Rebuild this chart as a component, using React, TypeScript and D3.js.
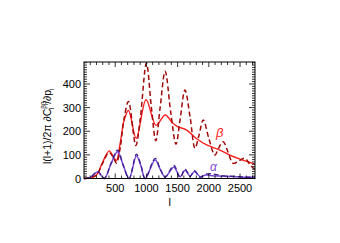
import React, { useEffect, useRef } from "react";
import * as d3 from "d3";

// control points: [l, value]
const betaSolid: [number, number][] = [
  [0, 0], [100, 3], [200, 15], [300, 70], [405, 117], [470, 92], [520, 76], [580, 150],
  [645, 248], [713, 288], [837, 170], [995, 333], [1155, 225], [1300, 269], [1420, 235],
  [1500, 220], [1645, 205], [1805, 168], [1965, 142], [2177, 120], [2337, 99], [2500, 82], [2750, 60],
];
const betaDashed: [number, number][] = [
  [0, 0], [100, 3], [200, 14], [300, 65], [400, 110], [470, 90], [520, 65], [580, 130],
  [640, 250], [713, 326], [830, 140], [900, 250], [1000, 488], [1080, 300], [1150, 160],
  [1220, 300], [1300, 454], [1390, 280], [1474, 145], [1540, 250], [1618, 375], [1700, 260],
  [1778, 128], [1840, 180], [1911, 248], [2000, 170], [2097, 99], [2160, 130], [2230, 156],
  [2310, 110], [2390, 64], [2480, 75], [2577, 85], [2670, 55], [2750, 35],
];
const alphaSolid: [number, number][] = [
  [0, 0], [100, 5], [217, 28], [325, 0], [430, 60], [537, 113], [630, 55], [723, 0],
  [840, 95], [910, 55], [980, 0], [1140, 78], [1220, 40], [1300, 7], [1440, 48], [1540, 7],
  [1620, 35], [1700, 10], [1770, 30], [1860, 8], [1950, 15], [2050, 12], [2200, 10],
  [2400, 8], [2600, 5], [2750, 5],
];
const alphaDashed: [number, number][] = [
  [0, 0], [100, 4], [217, 30], [325, 0], [430, 62], [537, 120], [630, 55], [723, 0],
  [840, 103], [910, 58], [980, 0], [1140, 85], [1220, 42], [1300, 5], [1440, 55], [1540, 5],
  [1620, 40], [1700, 8], [1770, 33], [1860, 5], [1950, 18], [2050, 20], [2200, 12],
  [2400, 9], [2600, 6], [2750, 5],
];
const xTicks = [500, 1000, 1500, 2000, 2500];
const yTicks = [0, 100, 200, 300, 400];

const W = 340, H = 243;
const M = { left: 84, right: 255, top: 62, bottom: 178.5 };

export default function App() {
  const svgRef = useRef<SVGSVGElement>(null);

  useEffect(() => {
    const svg = d3.select(svgRef.current);
    svg.selectAll("*").remove();

    const x = d3.scaleLinear().domain([0, 2740]).range([M.left, M.right]);
    const y = d3.scaleLinear().domain([0, 493]).range([M.bottom, M.top]);
    const font = "'Liberation Sans', Arial, sans-serif";

    svg.append("defs").append("clipPath").attr("id", "plot")
      .append("rect").attr("x", M.left).attr("y", M.top - 2)
      .attr("width", M.right - M.left).attr("height", M.bottom - M.top + 4);

    const line = d3.line<[number, number]>()
      .x((d) => x(d[0])).y((d) => y(d[1]))
      .curve(d3.curveCatmullRom.alpha(0.5));

    const g = svg.append("g").attr("clip-path", "url(#plot)");
    const series = [
      { data: betaSolid, color: "#ff2020", dash: null, w: 1.4 },
      { data: alphaSolid, color: "#7a4ad8", dash: null, w: 1.5 },
      { data: betaDashed, color: "#a00808", dash: "5,3", w: 1.5 },
      { data: alphaDashed, color: "#3e1c8c", dash: "5,3", w: 1.3 },
    ];
    series.forEach((s) => {
      g.append("path").attr("d", line(s.data)).attr("fill", "none")
        .attr("stroke", s.color).attr("stroke-width", s.w)
        .attr("stroke-dasharray", s.dash);
    });

    // frame
    svg.append("rect").attr("x", M.left).attr("y", M.top)
      .attr("width", M.right - M.left).attr("height", M.bottom - M.top)
      .attr("fill", "none").attr("stroke", "#000").attr("stroke-width", 1);

    const ax = svg.append("g").attr("stroke", "#000").attr("stroke-width", 0.8);
    d3.range(100, 2740, 100).forEach((v) => {
      const major = v % 500 === 0;
      const len = major ? 5 : 3;
      ax.append("line").attr("x1", x(v)).attr("x2", x(v)).attr("y1", M.bottom).attr("y2", M.bottom - len);
      ax.append("line").attr("x1", x(v)).attr("x2", x(v)).attr("y1", M.top).attr("y2", M.top + len);
    });
    d3.range(10, 493, 10).forEach((v) => {
      const major = v % 100 === 0;
      const len = major ? 6 : 3;
      ax.append("line").attr("x1", M.left).attr("x2", M.left + len).attr("y1", y(v)).attr("y2", y(v));
      ax.append("line").attr("x1", M.right).attr("x2", M.right - len).attr("y1", y(v)).attr("y2", y(v));
    });

    svg.append("g").selectAll("text").data(xTicks).join("text")
      .attr("x", (d) => x(d)).attr("y", 192).attr("text-anchor", "middle")
      .attr("font-family", font).attr("font-size", 11).text((d) => d);
    svg.append("g").selectAll("text").data(yTicks).join("text")
      .attr("x", 81).attr("y", (d) => y(d) + 4).attr("text-anchor", "end")
      .attr("font-family", font).attr("font-size", 11).text((d) => d);

    svg.append("text").attr("x", x(1375)).attr("y", 206).attr("text-anchor", "middle")
      .attr("font-family", font).attr("font-size", 11).text("l");

    const yl = svg.append("text")
      .attr("transform", `translate(51,${(M.top + M.bottom) / 2 + 6}) rotate(-90)`)
      .attr("text-anchor", "middle").attr("font-family", font).attr("font-size", 10.5);
    yl.append("tspan").text("l(l+1)/2π    ∂C");
    yl.append("tspan").attr("font-size", 6.5).attr("dy", -5).text("ββ");
    yl.append("tspan").attr("font-size", 6.5).attr("dy", 8).attr("dx", -8).text("l");
    yl.append("tspan").attr("dy", -3).attr("dx", 4).text("/∂p");
    yl.append("tspan").attr("font-size", 6.5).attr("dy", 3).text("i");

    svg.append("text").attr("x", 216).attr("y", 137).attr("fill", "#ff2020")
      .attr("font-family", font).attr("font-style", "italic").attr("font-size", 13).text("β");
    svg.append("text").attr("x", 210).attr("y", 171).attr("fill", "#7a4ad8")
      .attr("font-family", font).attr("font-style", "italic").attr("font-size", 12).text("α");
  }, []);

  return (
    <svg ref={svgRef} width={W} height={H}
      style={{ position: "absolute", left: 0, top: 0, background: "#fff" }} />
  );
}
